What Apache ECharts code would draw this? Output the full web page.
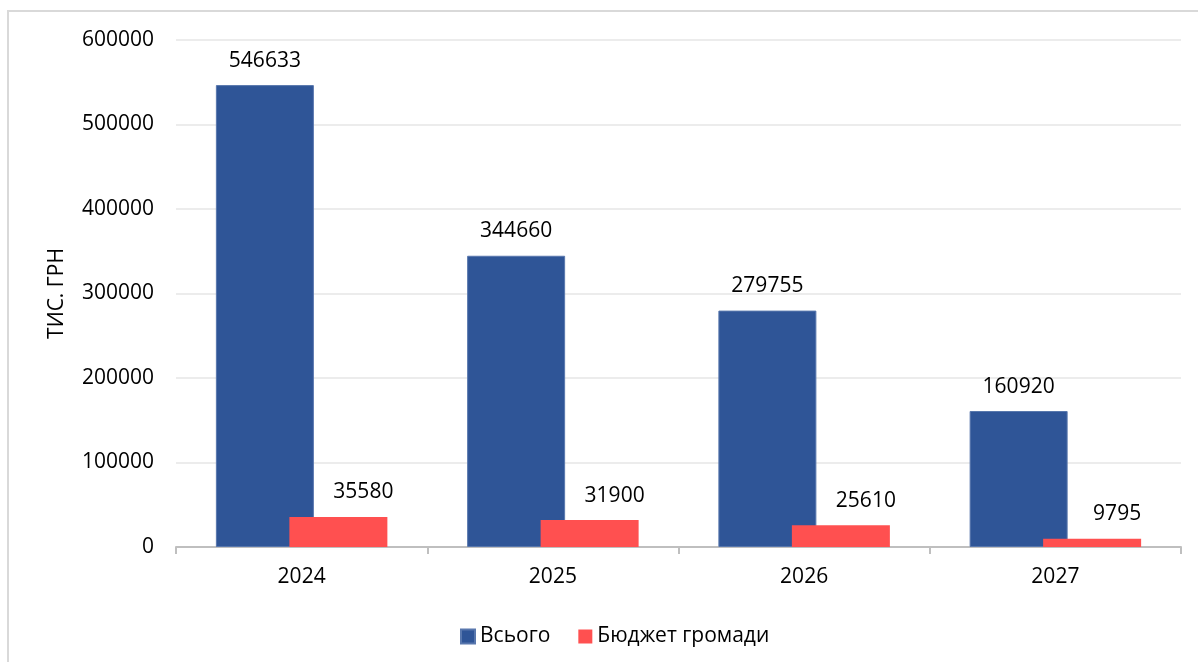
<!DOCTYPE html>
<html>
<head>
<meta charset="utf-8">
<script src="https://cdn.jsdelivr.net/npm/echarts@6/dist/echarts.min.js"></script>
<style>
html,body{margin:0;padding:0;background:#fff;}
#chart{width:1198px;height:662px;}
</style>
</head>
<body>
<div id="chart"></div>
<script>
const categories = ['2024', '2025', '2026', '2027'];
const totalValues = [546633, 344660, 279755, 160920];
const budgetValues = [35580, 31900, 25610, 9795];
const seriesNames = ['Всього', 'Бюджет громади'];
const yAxisName = 'ТИС. ГРН';

const FONT = 'Open Sans';
const chart = echarts.init(document.getElementById('chart'));
chart.setOption({
  animation: false,
  backgroundColor: '#ffffff',
  textStyle: { fontFamily: FONT },
  graphic: [{
    type: 'rect',
    shape: { x: 8, y: 11, width: 1400, height: 900 },
    style: { fill: 'none', stroke: '#d9d9d9', lineWidth: 2 },
    silent: true, z: -1
  }],
  grid: { left: 176, right: 17, top: 40, bottom: 115, containLabel: false },
  legend: {
    left: 455, top: 621,
    itemWidth: 14, itemHeight: 14, itemGap: 28,
    icon: 'rect',
    textStyle: { fontFamily: FONT, fontSize: 21, color: '#000' },
    data: seriesNames
  },
  xAxis: {
    type: 'category',
    data: categories,
    axisLine: { lineStyle: { color: '#bfbfbf', width: 2 } },
    axisTick: { show: true, length: 7, lineStyle: { color: '#bfbfbf', width: 2 } },
    axisLabel: { fontFamily: FONT, fontSize: 21, color: '#000', margin: 20 }
  },
  yAxis: {
    type: 'value',
    min: 0, max: 600000, interval: 100000,
    name: yAxisName,
    nameLocation: 'middle',
    nameRotate: 90,
    nameGap: 108,
    nameTextStyle: { fontFamily: FONT, fontSize: 21, color: '#000' },
    axisLine: { show: false },
    axisTick: { show: false },
    splitLine: { lineStyle: { color: '#ececec', width: 2 } },
    axisLabel: { fontFamily: FONT, fontSize: 21, color: '#000', margin: 22, formatter: v => String(v) }
  },
  series: [
    {
      name: seriesNames[0],
      type: 'bar',
      data: totalValues,
      barWidth: 98,
      barGap: '-25%',
      itemStyle: { color: '#2f5597', borderColor: '#5877ad', borderWidth: 1 },
      label: { show: true, position: 'top', distance: 14, fontFamily: FONT, fontSize: 21, color: '#000' },
      z: 2
    },
    {
      name: seriesNames[1],
      type: 'bar',
      data: budgetValues,
      barWidth: 98,
      barGap: '-25%',
      itemStyle: { color: '#ff5050' },
      label: { show: true, position: 'top', distance: 14, offset: [25, 0], fontFamily: FONT, fontSize: 21, color: '#000' },
      z: 3
    }
  ]
});
</script>
</body>
</html>
